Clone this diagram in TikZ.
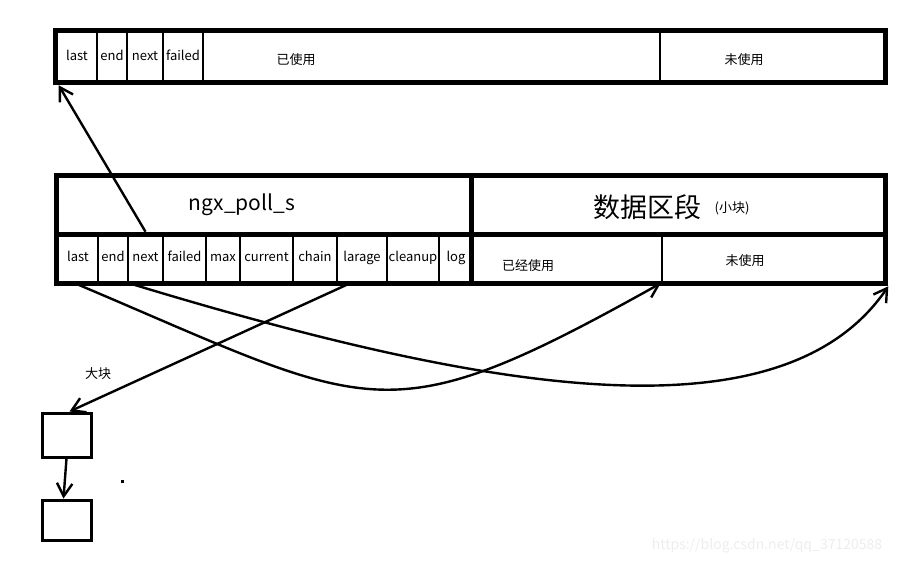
\documentclass[tikz,border=0pt]{standalone}
\usepackage{fontspec}
\setmainfont{Noto Sans CJK SC}
\usetikzlibrary{arrows.meta}
\tikzset{
  cell/.style={draw, line width=2.6pt, inner sep=0pt, minimum height=49pt, text height=9.5pt, text depth=2.5pt, font=\fontsize{13}{15}\selectfont},
  frame/.style={line width=4.6pt},
  ptr/.style={line width=2.4pt, -{Straight Barb[angle=62:15pt]}},
  txt/.style={inner sep=0pt, font=\fontsize{13}{15}\selectfont},
}
\begin{document}
\begin{tikzpicture}[x=1pt, y=-1pt]
  \useasboundingbox (0,0) rectangle (898,565);

  % blocco superiore
  \node[cell, minimum width=40pt] (tlast) at (77,56.5) {last};
  \node[cell, minimum width=30pt] (tend) at (112,56.5) {end};
  \node[cell, minimum width=36pt] (tnext) at (145,56.5) {next};
  \node[cell, minimum width=40pt] (tfailed) at (183,56.5) {failed};
  \node[cell, minimum width=457pt, line width=1.6pt] (tused) at (431.5,56.5) {};
  \node[cell, minimum width=224pt] (tunused) at (772,56.5) {};
  \node[txt] (tusedl) at (296,60) {已使用};
  \node[txt] (tunusedl) at (744,60) {未使用};
  \draw[frame] (tlast.north west) rectangle (tunused.south east);

  % intestazione ngx_poll_s e dati
  \node[cell, minimum width=415pt, minimum height=56pt] (ngx) at (265.5,205) {};
  \node[cell, minimum width=411pt, minimum height=56pt] (data) at (678.5,205) {};
  \node[txt, font=\fontsize{21}{24}\selectfont] (ngxl) at (242,205) {ngx\_poll\_s};
  \node[txt, font=\fontsize{27}{30}\selectfont] (datal) at (647,207) {数据区段};
  \node[txt] (smalll) at (732,208) {(小块)};

  % campi della struttura
  \node[cell, minimum width=40pt] (mlast) at (78,257.5) {last};
  \node[cell, minimum width=30pt] (mend) at (113,257.5) {end};
  \node[cell, minimum width=35pt] (mnext) at (145.5,257.5) {next};
  \node[cell, minimum width=43pt] (mfailed) at (184.5,257.5) {failed};
  \node[cell, minimum width=34pt] (mmax) at (223,257.5) {max};
  \node[cell, minimum width=53pt] (mcurrent) at (266.5,257.5) {current};
  \node[cell, minimum width=44pt] (mchain) at (315,257.5) {chain};
  \node[cell, minimum width=50pt] (mlarage) at (362,257.5) {larage};
  \node[cell, minimum width=52pt] (mcleanup) at (413,257.5) {cleanup};
  \node[cell, minimum width=34pt] (mlog) at (456,257.5) {log};
  \node[cell, minimum width=189pt] (mused) at (567.5,257.5) {};
  \node[cell, minimum width=222pt] (munused) at (773,257.5) {};
  \node[txt] (musedl) at (528,266) {已经使用};
  \node[txt] (munusedl) at (745,261) {未使用};
  \draw[frame] (ngx.north west) rectangle (munused.south east);
  \draw[frame] (ngx.south west) -- (data.south east);
  \draw[frame] (data.north west) -- (mused.south west);

  % blocchi grandi
  \node[draw, line width=3pt, minimum width=49pt, minimum height=44pt] (big1) at (66.5,435) {};
  \node[draw, line width=3pt, minimum width=49pt, minimum height=40pt] (big2) at (66.5,520) {};
  \node[txt] (bigl) at (98,374) {大块};
  \fill (120.5,479.5) rectangle (123.5,482.5);

  % puntatori
  \draw[ptr] (mnext.north) -- ([shift={(3,3)}]tlast.south west);
  \draw[ptr] ([xshift=-3]mlast.south) .. controls (375,410) and (382,439) .. (munused.south west);
  \draw[ptr] (mend.south east) .. controls (477,389) and (780,445) .. ([shift={(3,3)}]munused.south east);
  \draw[ptr] ([xshift=-12]mlarage.south) -- ([xshift=3]big1.north);
  \draw[ptr] (big1.south) -- ([xshift=-3]big2.north);

  \node[txt, font=\fontsize{14}{16}\selectfont, text=gray!14] (mark) at (767,546) {https://blog.csdn.net/qq\_37120588};
\end{tikzpicture}
\end{document}
